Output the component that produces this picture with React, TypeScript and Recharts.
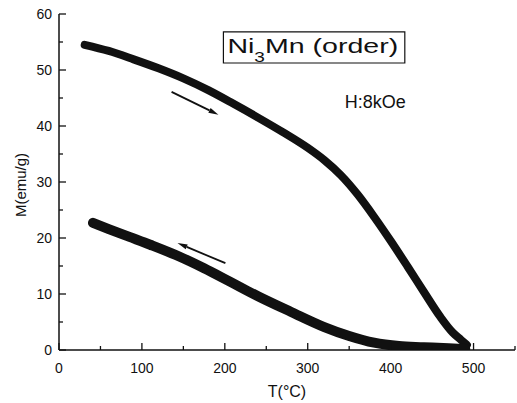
import { LineChart, Line, XAxis, YAxis, ReferenceLine, ReferenceArea, Label } from "recharts";

// heating run (upper curve)
const heatT = [31, 60, 90, 120, 150, 180, 210, 240, 270, 300, 320, 340, 360, 380, 400, 420, 440, 460, 475, 485, 492];
const heatM = [54.5, 53.4, 51.9, 50.3, 48.5, 46.4, 44.0, 41.5, 38.9, 36.1, 33.9, 31.2, 27.8, 23.8, 19.5, 15.0, 10.4, 5.9, 3.1, 1.8, 0.9];

// cooling run (lower curve)
const coolT = [41, 60, 85, 110, 145, 175, 205, 240, 280, 320, 350, 380, 410, 440, 470, 490];
const coolM = [22.7, 21.6, 20.2, 18.8, 16.7, 14.6, 12.3, 9.6, 6.8, 4.1, 2.5, 1.3, 0.7, 0.5, 0.3, 0.2];

const xTicks = [0, 50, 100, 150, 200, 250, 300, 350, 400, 450, 500, 550];
const yTicks = [0, 5, 10, 15, 20, 25, 30, 35, 40, 45, 50, 55, 60];

const heatData = heatT.map((t, i) => ({ t, m: heatM[i] }));
const coolData = coolT.map((t, i) => ({ t, m: coolM[i] }));

const FONT = '"Liberation Sans", Arial, Helvetica, sans-serif';
const INK = "#111";

function makeTick(side: "bottom" | "top" | "left" | "right") {
  return (props: any) => {
    const { x, y, payload } = props;
    const v = payload.value as number;
    const isX = side === "bottom" || side === "top";
    const major = isX ? v % 100 === 0 : v % 10 === 0;
    const len = major ? 7 : 4;
    let line;
    if (side === "bottom") line = <line x1={x} y1={y} x2={x} y2={y - len} stroke={INK} strokeWidth={1.3} />;
    else if (side === "top") line = <line x1={x} y1={y} x2={x} y2={y + len} stroke={INK} strokeWidth={1.3} />;
    else if (side === "left") line = <line x1={x} y1={y} x2={x + len} y2={y} stroke={INK} strokeWidth={1.3} />;
    else line = <line x1={x} y1={y} x2={x - len} y2={y} stroke={INK} strokeWidth={1.3} />;
    let label = null;
    if (major && side === "bottom" && v <= 500)
      label = (
        <text x={x} y={y + 23} textAnchor="middle" fontSize={14} fontFamily={FONT} fill={INK}>
          {v}
        </text>
      );
    if (major && side === "left")
      label = (
        <text x={x - 7} y={y + 5} textAnchor="end" fontSize={14} fontFamily={FONT} fill={INK}>
          {v}
        </text>
      );
    return (
      <g>
        {line}
        {label}
      </g>
    );
  };
}

function Arrow(props: any) {
  const { x1, y1, x2, y2 } = props;
  const a = Math.atan2(y2 - y1, x2 - x1);
  const hl = 10;
  const hw = 2.6;
  const bx = x2 - hl * Math.cos(a);
  const by = y2 - hl * Math.sin(a);
  const px = -Math.sin(a) * hw;
  const py = Math.cos(a) * hw;
  return (
    <g>
      <line x1={x1} y1={y1} x2={bx} y2={by} stroke={INK} strokeWidth={1.8} />
      <polygon points={`${x2},${y2} ${bx + px},${by + py} ${bx - px},${by - py}`} fill={INK} />
    </g>
  );
}

function TitleBox(props: any) {
  const vb = props.viewBox;
  return (
    <g fontFamily={FONT} fill={INK}>
      <g transform={`translate(${vb.x + 4}, ${vb.y + 21.5}) scale(1.36, 1)`}>
        <text x={0} y={0} fontSize={21}>
          Ni
          <tspan fontSize={14} dy={8.4}>3</tspan>
          <tspan dy={-8.4}>Mn (order)</tspan>
        </text>
      </g>
      <text x={vb.x + vb.width + 1} y={vb.y + vb.height + 45} fontSize={18} textAnchor="end">
        H:8kOe
      </text>
    </g>
  );
}

function XTitle(props: any) {
  const vb = props.viewBox;
  return (
    <text x={vb.x + vb.width / 2} y={vb.y + 47} textAnchor="middle" fontSize={16} fontFamily={FONT} fill={INK}>
      T(°C)
    </text>
  );
}

function YTitle(props: any) {
  const vb = props.viewBox;
  const cx = vb.x + 26;
  const cy = vb.y + vb.height / 2 + 3;
  return (
    <text
      x={cx}
      y={cy}
      transform={`rotate(-90, ${cx}, ${cy})`}
      textAnchor="middle"
      fontSize={15}
      fontFamily={FONT}
      fill={INK}
    >
      M(emu/g)
    </text>
  );
}

export default function App() {
  return (
    <div style={{ position: "absolute", left: 0, top: 0, background: "#fff" }}>
      <LineChart width={517} height={403} margin={{ top: 14, right: 2, bottom: 0, left: 0 }}>
        <XAxis
          xAxisId={0}
          type="number"
          dataKey="t"
          domain={[0, 550]}
          ticks={xTicks}
          interval={0}
          height={53}
          tickSize={0}
          tickMargin={0}
          tickLine={false}
          axisLine={{ stroke: INK, strokeWidth: 1.5 }}
          tick={makeTick("bottom")}
          allowDataOverflow
        >
          <Label content={XTitle} />
        </XAxis>
        <XAxis
          xAxisId="top"
          orientation="top"
          type="number"
          dataKey="t"
          domain={[0, 550]}
          ticks={xTicks}
          interval={0}
          height={0}
          tickSize={0}
          tickMargin={0}
          tickLine={false}
          axisLine={{ stroke: INK, strokeWidth: 1.5 }}
          tick={makeTick("top")}
          allowDataOverflow
        />
        <YAxis
          yAxisId={0}
          type="number"
          domain={[0, 60]}
          ticks={yTicks}
          interval={0}
          width={59}
          tickSize={0}
          tickMargin={0}
          tickLine={false}
          axisLine={{ stroke: INK, strokeWidth: 1.5 }}
          tick={makeTick("left")}
          allowDataOverflow
        >
          <Label content={YTitle} />
        </YAxis>
        <YAxis
          yAxisId="r"
          orientation="right"
          type="number"
          domain={[0, 60]}
          ticks={yTicks}
          interval={0}
          width={0}
          tickSize={0}
          tickMargin={0}
          tickLine={false}
          axisLine={{ stroke: INK, strokeWidth: 1.5 }}
          tick={makeTick("right")}
          allowDataOverflow
        />
        <Line
          data={heatData}
          dataKey="m"
          type="monotone"
          stroke={INK}
          strokeWidth={8}
          strokeLinecap="round"
          dot={false}
          isAnimationActive={false}
        />
        <Line
          data={coolData}
          dataKey="m"
          type="monotone"
          stroke={INK}
          strokeWidth={10}
          strokeLinecap="round"
          dot={false}
          isAnimationActive={false}
        />
        <ReferenceLine segment={[{ x: 135.8, y: 46.1 }, { x: 192.3, y: 42.0 }]} shape={Arrow} />
        <ReferenceLine segment={[{ x: 200.7, y: 15.5 }, { x: 142.9, y: 19.1 }]} shape={Arrow} />
        <ReferenceArea
          x1={198.3}
          x2={417.1}
          y1={51.25}
          y2={56.8}
          fill="#fff"
          fillOpacity={1}
          stroke={INK}
          strokeWidth={1.2}
          label={TitleBox}
        />
      </LineChart>
    </div>
  );
}
